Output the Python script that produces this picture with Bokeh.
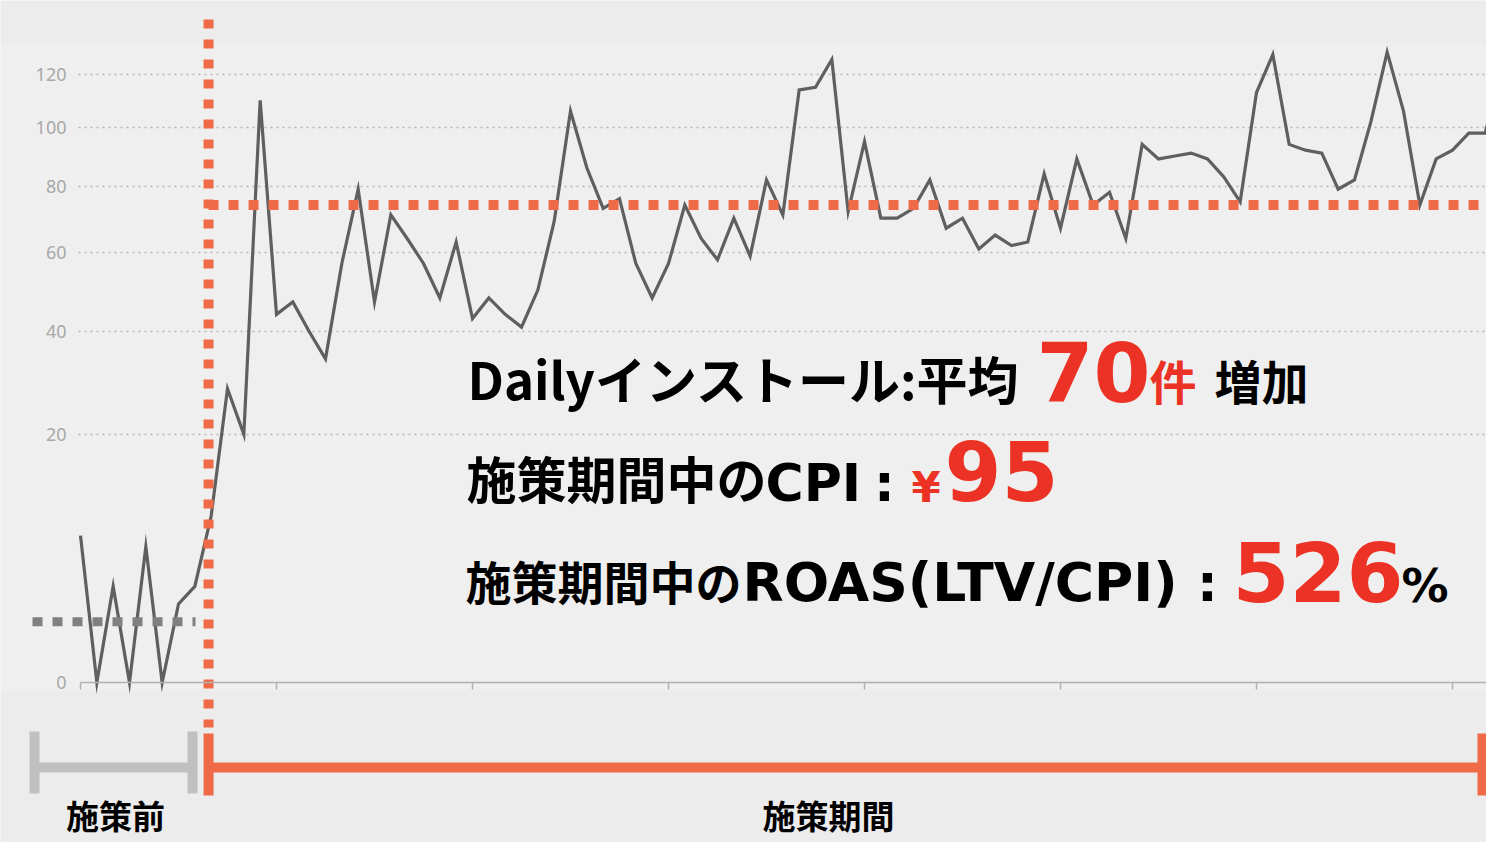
import math
from bokeh.plotting import figure
from bokeh.models import (ColumnDataSource, Range1d, LinearAxis, FixedTicker,
                          CustomJSTickFormatter, Grid)
from bokeh.core.properties import value
from bokeh.embed import file_html
from bokeh.resources import INLINE

# ---------------- data ----------------
days = list(range(88))
installs = [7, 0, 3, 0, 6, 0, 2, 3, 9, 28,
            20, 110, 44, 47, 40, 34, 57, 79, 47, 71,
            64, 57, 48, 63, 43, 48, 44, 41, 50, 69,
            106, 86, 73, 76, 57, 48, 57, 74, 64, 58,
            70, 59, 82, 71, 114, 115, 126, 72, 95, 70,
            70, 73, 82, 67, 70, 61, 65, 62, 63, 84,
            67, 89, 74, 78, 64, 94, 89, 90, 91, 89,
            83, 75, 113, 128, 94, 92, 91, 79, 82, 102,
            129, 106, 74, 89, 92, 98, 98, 122]
y_ticks = [0, 20, 40, 60, 80, 100, 120]
x_ticks = list(range(0, 88, 12))
avg_before = 1.2      # grey dotted level
avg_after = 74        # orange dotted level
start_day = 7.84      # start of campaign (vertical orange line)

headline_1 = ["Dailyインストール:平均", "70", "件", "増加"]
headline_2 = ["施策期間中の", "CPI", ":", "¥", "95"]
headline_3 = ["施策期間中の", "ROAS(LTV/CPI)", ":", "526", "%"]
period_labels = ["施策前", "施策期間"]

# ---------------- layout helpers (picture px -> data) ----------------
W, H = 1486, 842
PX_X0, PX_DX = 80.0, 16.3333     # picture x of day 0, px per day
PX_Y0, PX_K = 682.0, 55.5        # picture y of 0, px per sqrt unit


def xd(px):
    return (px - PX_X0) / PX_DX


def yd(py):
    return (PX_Y0 - py) / PX_K


RED = "#ec3224"
ORANGE = "#ef6b47"
GREY_BR = "#c0c0c0"
CJK = "Noto Sans CJK JP"
LAT = "DejaVu Sans"
# empirical baseline correction (fraction of font size)
SHIFT = {CJK: 0.48, LAT: 0.37}

p = figure(width=W, height=H, output_backend="svg", toolbar_location=None,
           x_range=Range1d(xd(0), xd(W)), y_range=Range1d(yd(H), yd(0)),
           x_axis_type=None, y_axis_type=None, min_border=0,
           background_fill_color="#ececec", border_fill_color="#ececec",
           outline_line_color=None)
p.xgrid.visible = False
p.ygrid.visible = False

# plot area background
p.quad(left=xd(0), right=xd(W), bottom=yd(690), top=yd(43),
       fill_color="#efefef", line_color=None, level="image")

# y grid (sqrt scale)
grid = Grid(dimension=1, ticker=FixedTicker(ticks=[math.sqrt(t) for t in y_ticks[1:]]),
            grid_line_color="#b5b5b5", grid_line_dash="2 4", grid_line_width=1.5,
            cross_bounds=(xd(78), xd(W)))
p.add_layout(grid)

# y axis labels
yaxis = LinearAxis(ticker=FixedTicker(ticks=[math.sqrt(t) for t in y_ticks]),
                   formatter=CustomJSTickFormatter(code="return String(Math.round(tick*tick));"),
                   fixed_location=xd(74), axis_line_color=None,
                   major_tick_line_color=None, minor_tick_line_color=None,
                   major_tick_out=0, major_tick_in=0,
                   major_label_standoff=8, major_label_text_color="#a8a8a8",
                   major_label_text_font="Noto Sans", major_label_text_font_size="18px")
p.add_layout(yaxis, "left")

# x axis line with ticks (no labels in the reference)
xaxis = LinearAxis(ticker=FixedTicker(ticks=x_ticks), fixed_location=0,
                   bounds=(0, xd(W)), axis_line_color="#b0b0b0", axis_line_width=1.5,
                   major_tick_line_color="#b0b0b0", major_tick_line_width=1.5,
                   major_tick_out=7, major_tick_in=0, minor_tick_line_color=None,
                   formatter=CustomJSTickFormatter(code="return '';"),
                   major_label_text_font_size="10px")
p.add_layout(xaxis, "below")

# data line
src = ColumnDataSource(dict(day=days, installs=installs,
                            s=[math.sqrt(v) for v in installs]))
p.line("day", "s", source=src, line_color="#5f5f5f", line_width=3.2, line_join="miter")

# average lines
p.segment(x0=[start_day], y0=[math.sqrt(avg_after)], x1=[xd(W)], y1=[math.sqrt(avg_after)],
          line_color=ORANGE, line_width=10, line_dash="10 10")
p.segment(x0=[xd(32)], y0=[math.sqrt(avg_before)], x1=[xd(195)], y1=[math.sqrt(avg_before)],
          line_color="#808080", line_width=9, line_dash="10 10")
p.segment(x0=[start_day], y0=[yd(19)], x1=[start_day], y1=[yd(727)],
          line_color=ORANGE, line_width=10, line_dash="9 11")

# brackets
p.segment(x0=[xd(34), xd(192), xd(34)], y0=[yd(731), yd(731), yd(767)],
          x1=[xd(34), xd(192), xd(192)], y1=[yd(793), yd(793), yd(767)],
          line_color=GREY_BR, line_width=10)
p.segment(x0=[start_day, xd(1482), start_day], y0=[yd(733), yd(733), yd(767)],
          x1=[start_day, xd(1482), xd(1482)], y1=[yd(795), yd(795), yd(767)],
          line_color=ORANGE, line_width=10)


def label(txt, px, py, size, color, font=CJK, align="left", baseline="alphabetic"):
    if baseline == "alphabetic":
        py = py - SHIFT[font] * size
    p.text(x=[xd(px)], y=[yd(py)], text=[txt], text_font=value(font),
           text_font_style="bold", text_font_size=f"{size}px", text_color=color,
           text_align=align, text_baseline=baseline)


label(period_labels[0], 115, 814, 33, "#000000", align="center", baseline="middle")
label(period_labels[1], 828, 814, 33, "#000000", align="center", baseline="middle")

# headline 1
label(headline_1[0], 467, 402, 51, "#000000")
label(headline_1[1], 1036, 402, 82, RED, font=LAT)
label(headline_1[2], 1149, 402, 47, RED)
label(headline_1[3], 1214, 402, 47, "#000000")

# headline 2
label(headline_2[0], 466, 500, 50, "#000000")
label(headline_2[1], 765, 502, 52, "#000000", font=LAT)
label(headline_2[2], 884, 502, 52, "#000000", font=LAT, align="center")
label(headline_2[3], 911, 503, 42, RED, font=LAT)
label(headline_2[4], 944, 501, 82, RED, font=LAT)

# headline 3
label(headline_3[0], 465, 602, 46, "#000000")
label(headline_3[1], 742, 602, 53.5, "#000000", font=LAT)
label(headline_3[2], 1207, 602, 52, "#000000", font=LAT, align="center")
label(headline_3[3], 1232, 602, 82, RED, font=LAT)
label(headline_3[4], 1401, 602, 47, "#000000", font=LAT)

open("out.html", "w").write(file_html(p, INLINE))
